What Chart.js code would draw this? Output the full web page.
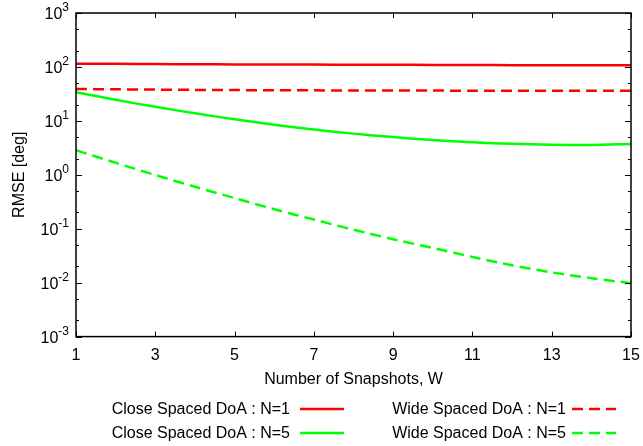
<!DOCTYPE html>
<html>
<head>
<meta charset="utf-8">
<script src="https://cdn.jsdelivr.net/npm/chart.js@4.4.0/dist/chart.umd.min.js"></script>
<style>
  body { margin: 0; background: #fff; }
  canvas { display: block; }
</style>
</head>
<body>
<canvas id="rmseChart" width="643" height="446"></canvas>
<script>
'use strict';

// snapshot counts on the x axis
const snapshots = [1, 2, 3, 4, 5, 6, 7, 8, 9, 10, 11, 12, 13, 14, 15];

// RMSE in degrees
const closeN1 = [115, 114, 113, 112, 111.5, 111, 110.5, 110, 109.5, 109, 108.5, 108, 107.5, 107, 107];
const wideN1 = [39, 38.5, 38, 37.5, 37.2, 37, 36.8, 36.6, 36.5, 36.4, 36.3, 36.2, 36.1, 36, 36];
const closeN5 = [34, 24.6, 18.2, 13.8, 10.7, 8.5, 6.9, 5.8, 5.0, 4.4, 4.0, 3.75, 3.62, 3.58, 3.72];
const wideN5 = [2.85, 1.67, 0.99, 0.6, 0.37, 0.23, 0.148, 0.096, 0.064, 0.044, 0.030, 0.021, 0.0155, 0.0121, 0.0098];

const seriesLabels = ['Close Spaced DoA : N=1', 'Wide Spaced DoA : N=1', 'Close Spaced DoA : N=5', 'Wide Spaced DoA : N=5'];
const yDecades = [-3, -2, -1, 0, 1, 2, 3];
const xTicks = [1, 3, 5, 7, 9, 11, 13, 15];

const FONT = '"Liberation Sans", Arial, sans-serif';

function makeSeries(label, values, color, dashed) {
  return {
    label: label,
    data: values.map(function(v, i) { return { x: snapshots[i], y: v }; }),
    borderColor: color,
    backgroundColor: color,
    borderWidth: 2.5,
    borderDash: dashed ? [11, 6] : [],
    pointRadius: 0,
    tension: 0.3,
    fill: false
  };
}

// box, inward ticks, y labels with exponents, y title, legend
let frame = {
  id: 'frame',
  afterDraw: function(chart) {
    let ctx = chart.ctx;
    let area = chart.chartArea;
    let xs = chart.scales.x;
    let ys = chart.scales.y;

    ctx.save();
    ctx.strokeStyle = '#000';
    ctx.lineWidth = 1;

    // major y ticks and minor ticks at 2 and 5
    ctx.beginPath();
    yDecades.forEach(function(p) {
      let y = Math.round(ys.getPixelForValue(Math.pow(10, p))) + 0.5;
      ctx.moveTo(area.left, y); ctx.lineTo(area.left + 6, y);
      ctx.moveTo(area.right, y); ctx.lineTo(area.right - 6, y);
      if (p < 3) {
        [2, 5].forEach(function(m) {
          let ym = Math.round(ys.getPixelForValue(m * Math.pow(10, p))) + 0.5;
          ctx.moveTo(area.left, ym); ctx.lineTo(area.left + 3, ym);
          ctx.moveTo(area.right, ym); ctx.lineTo(area.right - 3, ym);
        });
      }
    });
    xTicks.forEach(function(v) {
      let x = Math.round(xs.getPixelForValue(v)) + 0.5;
      ctx.moveTo(x, area.bottom); ctx.lineTo(x, area.bottom - 5);
      ctx.moveTo(x, area.top); ctx.lineTo(x, area.top + 5);
    });
    ctx.stroke();

    ctx.lineWidth = 1.5;
    ctx.strokeRect(area.left, area.top, area.right - area.left, area.bottom - area.top);

    // y tick labels: 10 with raised exponent
    ctx.fillStyle = '#000';
    ctx.textBaseline = 'middle';
    ctx.textAlign = 'left';
    yDecades.forEach(function(p) {
      let y = ys.getPixelForValue(Math.pow(10, p));
      ctx.font = '16px ' + FONT;
      let wBase = ctx.measureText('10').width;
      ctx.font = '12px ' + FONT;
      let wExp = ctx.measureText(String(p)).width;
      let x0 = area.left - 7 - wBase - wExp;
      ctx.font = '16px ' + FONT;
      ctx.fillText('10', x0, y + 2);
      ctx.font = '12px ' + FONT;
      ctx.fillText(String(p), x0 + wBase, y - 5);
    });

    // y title
    ctx.save();
    ctx.translate(20, (area.top + area.bottom) / 2);
    ctx.rotate(-Math.PI / 2);
    ctx.textAlign = 'center';
    ctx.font = '16px ' + FONT;
    ctx.fillText('RMSE [deg]', 0, 0);
    ctx.restore();

    // legend: text right aligned, sample line to the right
    ctx.font = '16px ' + FONT;
    ctx.textAlign = 'right';
    chart.data.datasets.forEach(function(ds, i) {
      let col = i % 2;
      let row = Math.floor(i / 2);
      let textRight = col === 0 ? 290 : 566;
      let lineStart = col === 0 ? 300 : 572;
      let y = 409 + row * 24;
      ctx.fillStyle = '#000';
      ctx.fillText(ds.label, textRight, y + 1);
      ctx.strokeStyle = ds.borderColor;
      ctx.lineWidth = 2.5;
      ctx.setLineDash(ds.borderDash);
      ctx.beginPath();
      ctx.moveTo(lineStart, y);
      ctx.lineTo(lineStart + 44, y);
      ctx.stroke();
      ctx.setLineDash([]);
    });

    ctx.restore();
  }
};

let chart = new Chart(document.getElementById('rmseChart'), {
  type: 'line',
  data: {
    datasets: [
      makeSeries(seriesLabels[0], closeN1, '#ff0000', false),
      makeSeries(seriesLabels[1], wideN1, '#ff0000', true),
      makeSeries(seriesLabels[2], closeN5, '#00ff00', false),
      makeSeries(seriesLabels[3], wideN5, '#00ff00', true)
    ]
  },
  options: {
    responsive: false,
    animation: false,
    layout: { padding: { left: 0, right: 12, top: 13, bottom: 57 } },
    plugins: {
      legend: { display: false },
      tooltip: { enabled: false }
    },
    scales: {
      x: {
        type: 'linear',
        min: 1,
        max: 15,
        grid: { display: false, drawTicks: false },
        border: { display: false },
        ticks: {
          stepSize: 2,
          padding: 9,
          color: '#000',
          font: { family: FONT, size: 16 }
        },
        title: {
          display: true,
          text: 'Number of Snapshots, W',
          color: '#000',
          font: { family: FONT, size: 16 },
          padding: { top: -4, bottom: 0 }
        },
        afterFit: function(scale) {
          scale.paddingLeft = 0;
          scale.paddingRight = 0;
        }
      },
      y: {
        type: 'logarithmic',
        min: 0.001,
        max: 1000,
        grid: { display: false, drawTicks: false },
        border: { display: false },
        ticks: { display: false },
        afterBuildTicks: function(scale) {
          scale.ticks = yDecades.map(function(p) { return { value: Math.pow(10, p) }; });
        },
        afterFit: function(scale) {
          scale.width = 76;
        }
      }
    }
  },
  plugins: [frame]
});
</script>
</body>
</html>
